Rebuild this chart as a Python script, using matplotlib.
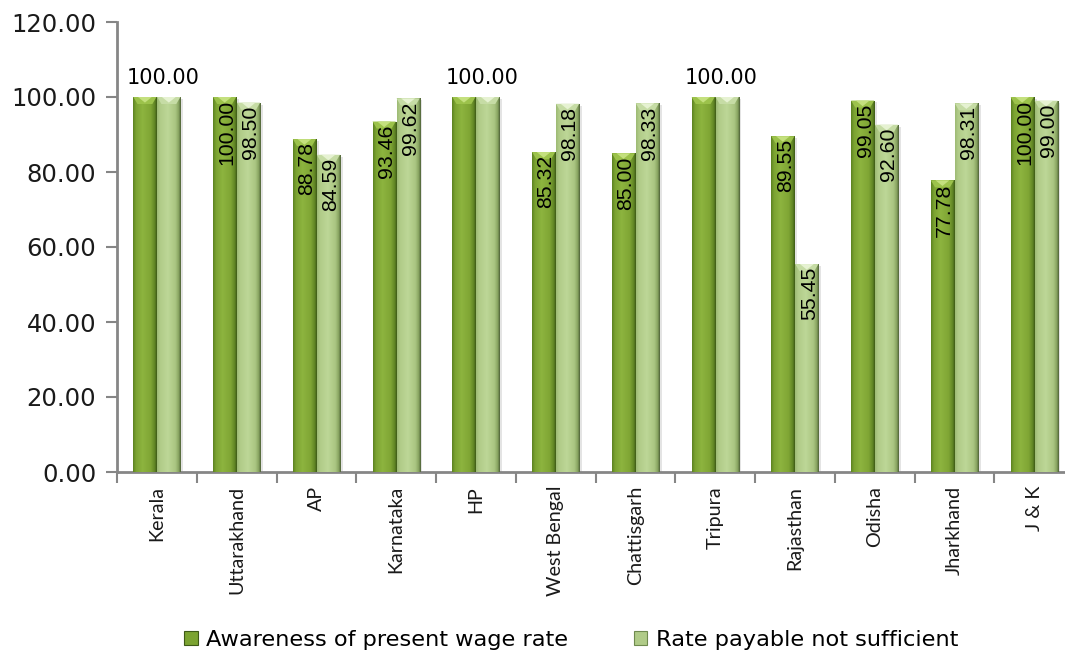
import numpy as np
import matplotlib
matplotlib.use("Agg")
import matplotlib.pyplot as plt
from matplotlib.colors import LinearSegmentedColormap
from matplotlib.patches import Polygon, Rectangle

states = ["Kerala", "Uttarakhand", "AP", "Karnataka", "HP", "West Bengal",
          "Chattisgarh", "Tripura", "Rajasthan", "Odisha", "Jharkhand", "J & K"]
awareness = [100.00, 100.00, 88.78, 93.46, 100.00, 85.32,
             85.00, 100.00, 89.55, 99.05, 77.78, 100.00]
not_sufficient = [100.00, 98.50, 84.59, 99.62, 100.00, 98.18,
                  98.33, 100.00, 55.45, 92.60, 98.31, 99.00]
series_names = ["Awareness of present wage rate", "Rate payable not sufficient"]
y_ticks = [0, 20, 40, 60, 80, 100, 120]

sans = "Liberation Sans"
label_sans = "Lato"

fig = plt.figure(figsize=(10.65, 6.54), dpi=100)
ax = fig.add_axes([117 / 1065, 1 - 472 / 654, (1074 - 117) / 1065, (472 - 22) / 654])

dark_cmap = LinearSegmentedColormap.from_list(
    "dark", [(0.0, "#5d8222"), (0.12, "#7ba331"), (0.4, "#8db43f"),
             (0.75, "#7fa534"), (0.92, "#5f8424"), (1.0, "#3e5a17")])
light_cmap = LinearSegmentedColormap.from_list(
    "light", [(0.0, "#9dba74"), (0.12, "#b0cb88"), (0.45, "#bdd797"),
              (0.78, "#aac581"), (0.92, "#86a25f"), (1.0, "#4f6238")])
grad = np.linspace(0, 1, 64).reshape(1, -1)

x = np.arange(len(states))
width = 0.29
offsets = [-0.15, 0.15]
px = 120 / 450  # data units per pixel on the y-axis


def draw_series(values, off, cmap, top_col, tip_col):
    bars = ax.bar(x + off, values, width, color="none", edgecolor="none", zorder=3)
    for b in bars:
        x0, w, h = b.get_x(), b.get_width(), b.get_height()
        # soft shadow to the right
        ax.add_patch(Rectangle((x0 + w, 0), 0.035, h - 0.5, color="#d9d9d9",
                               alpha=0.7, zorder=2, lw=0))
        im = ax.imshow(grad, cmap=cmap, aspect="auto", extent=(x0, x0 + w, 0, h),
                       zorder=3, interpolation="bilinear")
        im.set_clip_path(b)
        # bevelled top
        d = 7 * px
        ax.add_patch(Polygon([(x0, h), (x0 + w, h), (x0 + w * 0.82, h - d),
                              (x0 + w * 0.18, h - d)], closed=True,
                             color=top_col, zorder=4, lw=0))
        ax.add_patch(Polygon([(x0 + w * 0.2, h), (x0 + w * 0.8, h),
                              (x0 + w * 0.5, h - d * 0.8)], closed=True,
                             color=tip_col, zorder=4, lw=0))
    return bars


draw_series(awareness, offsets[0], dark_cmap, "#9cc24b", "#c4e07e")
draw_series(not_sufficient, offsets[1], light_cmap, "#c6dca5", "#e6f2d2")

for i in range(len(states)):
    a, b = awareness[i], not_sufficient[i]
    if a == 100 and b == 100:
        ax.text(x[i] + 0.08, 100 + 2.5, f"{a:.2f}", ha="center", va="bottom",
                fontsize=15, family="DejaVu Sans", color="black", zorder=6)
        continue
    for v, off in ((a, offsets[0]), (b, offsets[1])):
        ax.text(x[i] + off + 0.03, v - 3 * px, f"{v:.2f}", rotation=90,
                ha="center", va="top", zorder=6, family=sans, fontsize=15.3,
                color="black")

ax.set_xlim(-0.5, len(states) - 0.5)
ax.set_ylim(0, 120)
ax.set_yticks(y_ticks)
ax.set_yticklabels([f"{t:.2f}" for t in y_ticks], fontsize=17.5, color="#1a1a1a")
ax.set_xticks(x)
ax.set_xticklabels(states, rotation=90, family=label_sans, fontsize=14.2, color="#1a1a1a")
ax.set_xticks(np.arange(len(states) + 1) - 0.5, minor=True)
ax.tick_params(axis="x", which="major", length=0, pad=10)
ax.tick_params(axis="x", which="minor", length=8, width=1.5, color="#868686")
ax.tick_params(axis="y", length=8, width=1.5, color="#868686", pad=7)

for s in ("top", "right"):
    ax.spines[s].set_visible(False)
for s in ("left", "bottom"):
    ax.spines[s].set_color("#868686")
    ax.spines[s].set_linewidth(2)

handles = [Rectangle((0, 0), 1, 1, facecolor="#7ba331", edgecolor="#3e5a17", lw=0.8),
           Rectangle((0, 0), 1, 1, facecolor="#b0cb88", edgecolor="#6f8a4f", lw=0.8)]
fig.legend(handles, series_names, loc="center left", bbox_to_anchor=(184 / 1065, 1 - 640 / 654),
           ncol=2, frameon=False, prop=dict(family="DejaVu Sans", size=16.2),
           borderpad=0, borderaxespad=0,
           handlelength=0.6, handleheight=0.6, handletextpad=0.4, columnspacing=2.9)

fig.savefig("out.png", dpi=100, facecolor="white")
